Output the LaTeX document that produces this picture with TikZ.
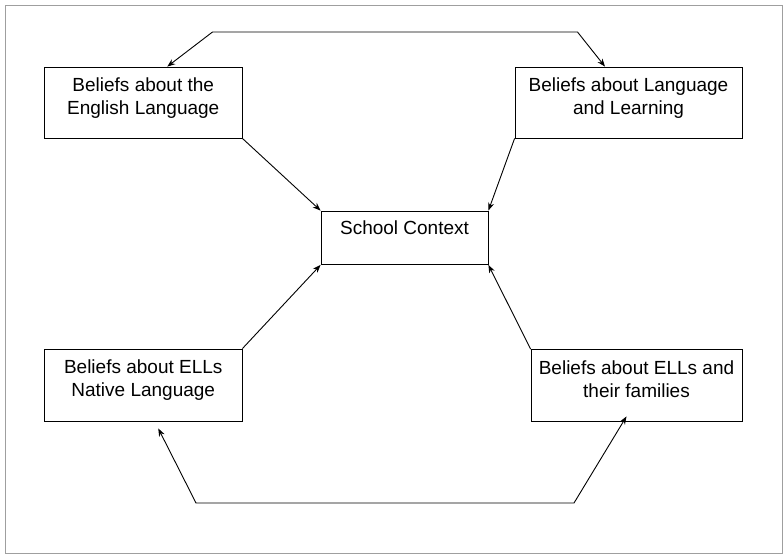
\documentclass[tikz,border=0pt]{standalone}
\usepackage{fontspec}
\setmainfont{Liberation Sans}
\usetikzlibrary{arrows.meta,calc}
\begin{document}
\begin{tikzpicture}[x=1pt,y=-1pt,
  box/.style={draw=black,line width=0.8pt,rectangle,inner sep=0pt},
  lbl/.style={anchor=north,inner sep=0pt,align=center,font=\fontsize{19}{23}\selectfont},
  conn/.style={draw=black,line width=0.9pt},
  tip/.tip={Stealth[length=8pt,width=6pt]},
  arr/.style={conn,-tip}]
\useasboundingbox (0,0) rectangle (784,556);
\draw[gray!75,line width=1pt] (5.5,6) rectangle (782,553.5);
% boxes
\node[box,minimum width=197.5pt,minimum height=71pt] (b1) at (143.25,102.5) {};
\node[box,minimum width=227pt,minimum height=71pt] (b2) at (628.5,102.5) {};
\node[box,minimum width=167pt,minimum height=53.5pt] (sc) at (404.5,237.75) {};
\node[box,minimum width=197.5pt,minimum height=72pt] (b3) at (143.25,385) {};
\node[box,minimum width=211pt,minimum height=71.5pt] (b4) at (636.5,385.25) {};
% texts
\node[lbl] (t1) at ($(b1.north)+(0,10.5)$) {Beliefs about the\\English Language};
\node[lbl] (t2) at ($(b2.north)+(0,10.5)$) {Beliefs about Language\\and Learning};
\node[lbl] (t0) at ($(sc.north)+(0,10)$) {School Context};
\node[lbl] (t3) at ($(b3.north)+(0,11)$) {Beliefs about ELLs\\Native Language};
\node[lbl] (t4) at ($(b4.north)+(0,11)$) {Beliefs about ELLs and\\their families};
% top connector
\coordinate (tl) at (212.5,32);
\coordinate (tr) at (577.5,32);
\draw[conn,tip-tip] ($(b1.north)+(24,0)$) -- (tl) -- (tr) -- ($(b2.north)+(-23.5,0)$);
% bottom connector
\coordinate (bl) at (196,503);
\coordinate (br) at (574,503);
\draw[conn,tip-tip] ($(b3.south)+(15,7)$) -- (bl) -- (br) -- ($(b4.south)+(-10,-5)$);
% arrows into school context
\draw[arr] (b1.south east) -- (sc.north west);
\draw[arr] (b2.south west) -- (sc.north east);
\draw[arr] (b3.north east) -- (sc.south west);
\draw[arr] (b4.north west) -- (sc.south east);
\end{tikzpicture}
\end{document}
